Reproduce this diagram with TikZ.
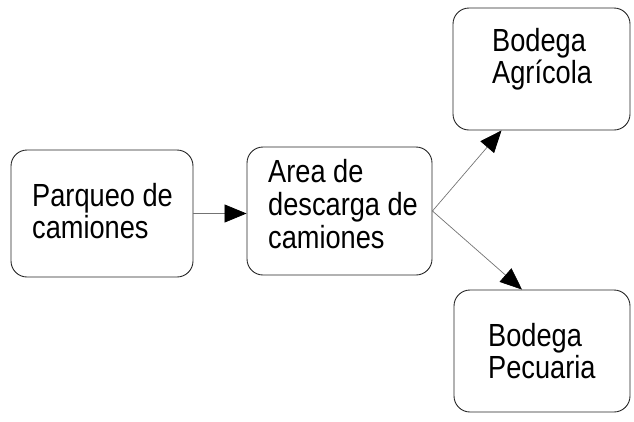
\documentclass[tikz,border=0pt]{standalone}
\usepackage{fontspec}
\setmainfont{Liberation Sans}[FakeStretch=0.85]
\usetikzlibrary{arrows.meta}
\begin{document}
\begin{tikzpicture}[x=1pt,y=1pt,
  box/.style={draw=black!85, line width=0.9pt, rounded corners=16pt, minimum width=#1, inner sep=0pt},
  lbl/.style={anchor=base west, align=left, inner sep=0pt, font=\fontsize{32}{32}\selectfont},
  conn/.style={draw=black!55, line width=0.7pt, -{Triangle[length=22pt,width=18pt,color=black,fill=black]}}]
\useasboundingbox (0,0) rectangle (634,-421);
\node[box=182pt, minimum height=127pt] (b1) at (102,-213.5) {};
\node[box=185pt, minimum height=128pt] (b2) at (339.5,-211) {};
\node[box=177pt, minimum height=122pt] (b3) at (541.5,-69) {};
\node[box=176pt, minimum height=122pt] (b4) at (542,-351) {};
\node[lbl] (t1) at (32,-238) {Parqueo de\\camiones};
\node[lbl, font=\fontsize{32}{33}\selectfont] (t2) at (268,-248) {Area de\\descarga de\\camiones};
\node[lbl, font=\fontsize{32}{28}\selectfont] (t3) at (492,-83) {Bodega\\Agrícola};
\node[lbl] (t4) at (488,-378) {Bodega\\Pecuaria};
\draw[conn] (b1.east) -- (b2.west |- b1.east);
\draw[conn] (b2.east) -- ([xshift=-40pt]b3.south);
\draw[conn] (b2.east) -- ([xshift=-20pt]b4.north);
\end{tikzpicture}
\end{document}
